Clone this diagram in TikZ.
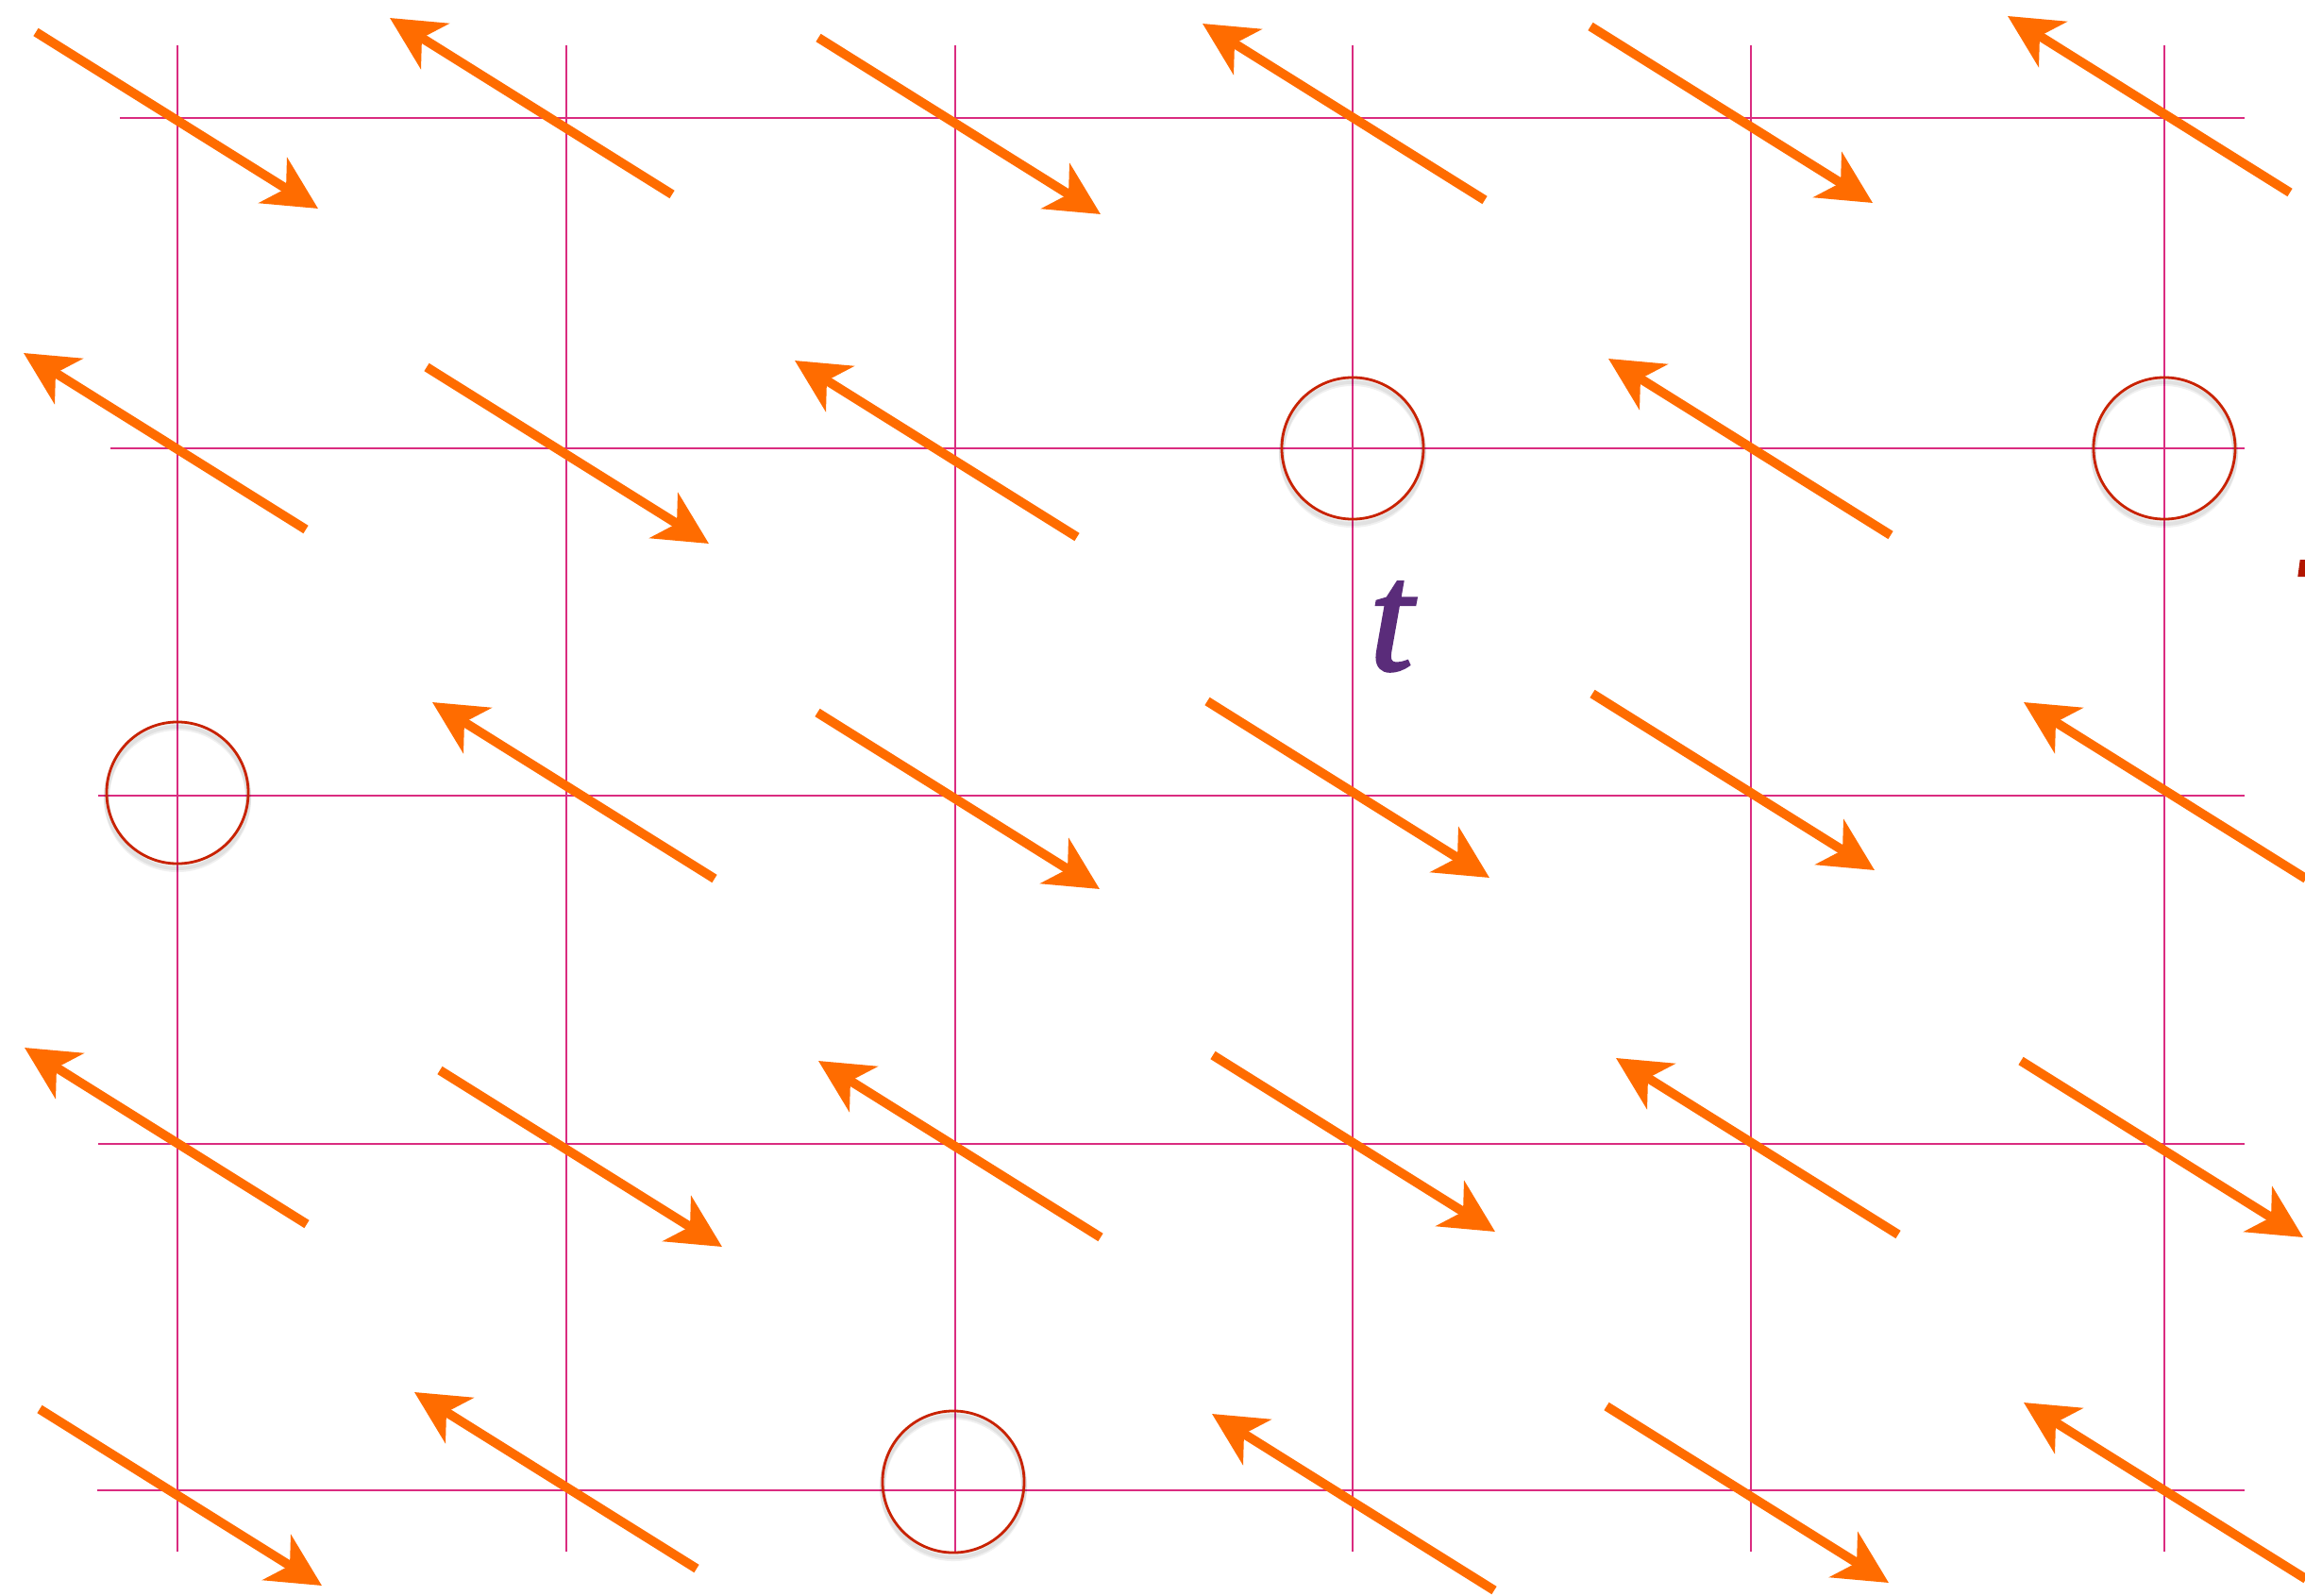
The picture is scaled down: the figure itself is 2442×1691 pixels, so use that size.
\documentclass[tikz,border=0pt]{standalone}
\usepackage{fontspec}
\newfontfamily\tfont[FakeBold=1.8]{Liberation Serif}
\usetikzlibrary{arrows.meta}
\definecolor{gridpink}{RGB}{218,44,128}
\definecolor{arrorange}{RGB}{255,108,0}
\definecolor{circred}{RGB}{200,34,0}
\definecolor{tpurple}{RGB}{90,44,122}
\definecolor{fragred}{RGB}{178,22,0}
\begin{document}
\begin{tikzpicture}[x=0.01cm,y=-0.01cm,
  gridline/.style={draw=gridpink,line width=0.024cm},
  spin/.style={draw=arrorange,line width=0.098cm,-{Stealth[length=0.56cm,width=0.56cm,inset=0.16cm]}},
  hole/.style={draw=circred,line width=0.028cm},
  holeshadow/.style={draw=black,line width=0.06cm,opacity=0.06}]
\useasboundingbox (0,0) rectangle (2442,1691);
\fill[white] (0,0) rectangle (2442,1691);
% grid
\foreach \gx in {188,600,1012,1433,1855,2293}
  \draw[gridline] (\gx,48) -- (\gx,1644);
\foreach \gy/\gs in {125/127,475/117,843/104,1212/104,1579/103}
  \draw[gridline] (\gs,\gy) -- (2378,\gy);
% circles
\foreach \cx/\cy [count=\i] in {1433/475,2293/475,188/840,1010/1570}{
  \coordinate (hole\i) at (\cx,\cy);
  \draw[holeshadow] (\cx,\cy+4) circle[radius=0.75cm];
  \draw[holeshadow] (\cx,\cy+6) circle[radius=0.75cm];
  \draw[hole] (hole\i) circle[radius=0.75cm];
}
% arrows pointing down-right
\foreach \x/\y in {337/221,1166/227,1984/215,751/576,1165/942,1578/930,1986/922,765/1321,1584/1305,2440/1311,341/1680,2001/1677}
  \draw[spin] (\x-299,\y-187) -- (\x,\y);
% arrows pointing up-left
\foreach \x/\y in {413/19,1274/25,2127/17,25/374,842/382,1704/380,458/744,2144/744,26/1110,867/1124,1712/1121,439/1475,1284/1498,2144/1486}
  \draw[spin] (\x+299,\y+187) -- (\x,\y);
% label
\node[text=tpurple,font=\tfont\itshape\fontsize{47}{56}\selectfont,inner sep=0pt] (tlabel) at (1474,664) {t};
% fragment at right edge
\fill[fragred] (2436.7,593) -- (2442,593) -- (2442,611) -- (2434.3,611) -- cycle;
\end{tikzpicture}
\end{document}
